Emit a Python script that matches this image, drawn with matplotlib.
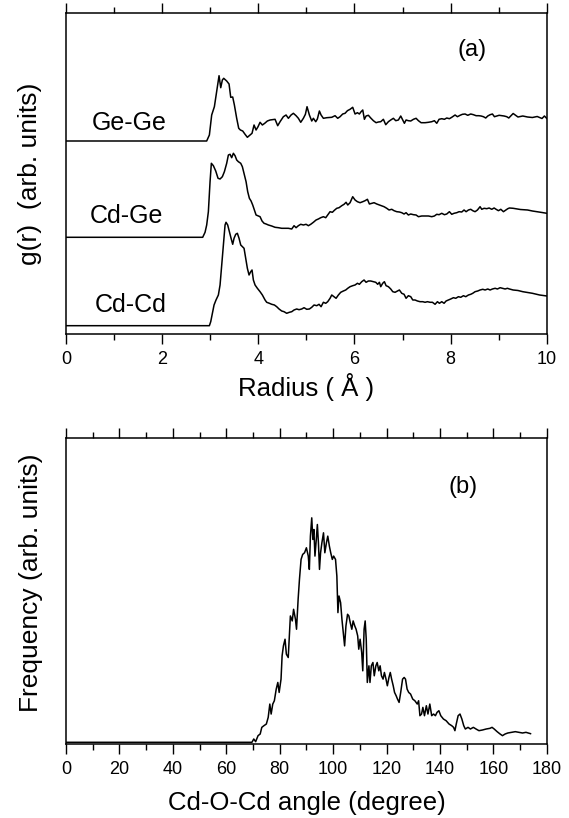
import matplotlib
matplotlib.use("Agg")
import matplotlib.pyplot as plt
from matplotlib.ticker import MultipleLocator

plt.rcParams['font.family'] = ['Liberation Sans', 'DejaVu Sans']

# ---- panel (a): partial g(r), arbitrary offsets already included ----
gege_r = [0.0, 2.926, 2.982, 3.030, 3.086, 3.134, 3.183, 3.218, 3.252, 3.280, 3.342, 3.391, 3.426,
          3.467, 3.502, 3.550, 3.592, 3.627, 3.675, 3.724, 3.772, 3.828, 3.869, 3.911, 3.953,
          3.994, 4.036, 4.084, 4.133, 4.188, 4.244, 4.348, 4.403, 4.452, 4.521, 4.577, 4.625,
          4.681, 4.729, 4.785, 4.833, 4.882, 4.937, 4.979, 5.013, 5.062, 5.111, 5.145, 5.194,
          5.228, 5.270, 5.305, 5.353, 5.423, 5.527, 5.596, 5.651, 5.700, 5.755, 5.804, 5.853,
          5.908, 5.963, 6.012, 6.061, 6.102, 6.137, 6.172, 6.206, 6.241, 6.289, 6.338, 6.393,
          6.449, 6.497, 6.546, 6.601, 6.650, 6.705, 6.754, 6.809, 6.858, 6.913, 6.962, 7.004,
          7.038, 7.073, 7.121, 7.170, 7.226, 7.281, 7.330, 7.385, 7.468, 7.538, 7.607, 7.662,
          7.711, 7.759, 7.815, 7.870, 7.919, 7.974, 8.023, 8.092, 8.141, 8.196, 8.245, 8.300,
          8.356, 8.418, 8.474, 8.529, 8.585, 8.633, 8.682, 8.730, 8.772, 8.821, 8.869, 8.911,
          8.959, 9.008, 9.063, 9.112, 9.167, 9.209, 9.30, 9.40, 9.50, 9.60, 9.70, 9.80, 9.90,
          9.95, 10.0]
gege_g = [193, 193, 199, 219, 227.3, 242.3, 258.3, 246.3, 254, 255.7, 253, 250, 236.7,
          237, 229, 215.7, 205.7, 204, 203, 199.7, 196.7, 199, 200.7, 209, 204,
          207.3, 211.7, 209, 210.7, 213, 214, 214.7, 208.3, 212.3, 217.3, 219, 215.7,
          219, 220.7, 218.3, 215.7, 211.7, 215.7, 219.7, 227.3, 219, 213, 215.7, 212.3,
          215, 223, 219, 215.7, 216.3, 216.7, 218.3, 215.7, 217.3, 220, 220.7, 223.3,
          224.7, 226.7, 220, 221.3, 220, 222.3, 224, 214.7, 218, 218.7, 216, 213.3,
          211.3, 212, 212.3, 214.7, 209.3, 212.3, 214, 215.7, 213.3, 214, 218, 214,
          210.7, 214, 213.3, 213, 214.7, 215.7, 213.3, 211.3, 211.3, 211.7, 212.3, 213.3,
          210.7, 214.7, 215.3, 214.7, 216, 215.3, 216.7, 219, 217.3, 218.7, 219.7, 220,
          218.7, 220, 219.3, 218.3, 218.3, 218, 217.3, 216, 218, 219.3, 220, 217.3,
          218, 218.7, 218.3, 218, 217.3, 216, 220.5, 217, 218, 217, 216.5, 217.5, 215.5,
          218, 215.5]

cdge_r = [0.0, 2.843, 2.892, 2.926, 2.961, 2.996, 3.023, 3.065, 3.114, 3.162, 3.204, 3.252, 3.294,
          3.342, 3.377, 3.412, 3.446, 3.481, 3.516, 3.550, 3.585, 3.634, 3.668, 3.710, 3.745,
          3.779, 3.814, 3.849, 3.883, 3.918, 3.953, 3.987, 4.036, 4.077, 4.119, 4.161, 4.209,
          4.278, 4.348, 4.417, 4.486, 4.556, 4.625, 4.695, 4.743, 4.785, 4.833, 4.882, 4.937,
          4.993, 5.041, 5.090, 5.145, 5.201, 5.249, 5.298, 5.353, 5.402, 5.443, 5.492, 5.540,
          5.582, 5.631, 5.679, 5.735, 5.783, 5.825, 5.860, 5.908, 5.963, 6.012, 6.061, 6.116,
          6.172, 6.220, 6.269, 6.310, 6.359, 6.407, 6.463, 6.518, 6.567, 6.615, 6.671, 6.719,
          6.775, 6.823, 6.879, 6.934, 6.983, 7.031, 7.073, 7.121, 7.170, 7.226, 7.281, 7.330,
          7.399, 7.468, 7.538, 7.607, 7.662, 7.711, 7.759, 7.815, 7.870, 7.919, 7.974, 8.023,
          8.071, 8.127, 8.175, 8.231, 8.279, 8.321, 8.370, 8.418, 8.460, 8.508, 8.557, 8.612,
          8.647, 8.696, 8.751, 8.800, 8.855, 8.904, 8.945, 8.994, 9.043, 9.098, 9.147, 9.188,
          9.223, 9.30, 9.45, 9.60, 9.70, 9.80, 9.90, 10.0]
cdge_g = [96.7, 96.7, 101.7, 109, 122.3, 152.3, 170.7, 168.3, 163, 155.7, 155, 157.3, 162.3,
          170.7, 179, 179.7, 176.3, 180.7, 178.3, 174, 172.3, 170.7, 167.3, 159, 152.3,
          142.3, 135.7, 133, 129, 124, 119, 118.3, 117.3, 113, 110.7, 110, 109,
          108, 106.7, 106.3, 105.7, 105.7, 105.7, 105, 108.3, 106.3, 108.3, 109.7, 109,
          109.7, 108.3, 109.7, 111.7, 114, 115, 116.3, 117.3, 116.3, 119, 122.3, 121.7,
          123.7, 125.7, 126.3, 128.3, 129.7, 131.7, 129, 131.3, 137.3, 134, 132.3, 131.3,
          132.3, 133.3, 134.7, 130, 130.7, 131.3, 130, 129, 128, 127.3, 125.7, 124,
          124.7, 123.3, 122.3, 122, 121.3, 120, 121.3, 119, 120, 119.3, 119, 117.3,
          118, 118, 118, 117.3, 118, 119.7, 119.3, 120.7, 119.3, 120, 122.3, 119.7,
          120.7, 121.3, 122.3, 122, 124, 122.3, 124, 124.7, 123.3, 122.3, 124, 127.3,
          124.7, 125.7, 125.3, 126, 124.7, 126, 124.7, 123.3, 124.7, 122.3, 124, 125.3,
          126, 125.7, 124.5, 124, 123, 122.3, 121.5, 120.7]

cdcd_r = [0.0, 2.982, 3.010, 3.044, 3.079, 3.120, 3.169, 3.204, 3.238, 3.273, 3.308, 3.328, 3.363,
          3.398, 3.433, 3.467, 3.495, 3.530, 3.564, 3.599, 3.634, 3.668, 3.703, 3.738, 3.772,
          3.807, 3.842, 3.869, 3.897, 3.932, 3.980, 4.036, 4.084, 4.140, 4.174, 4.230, 4.278,
          4.334, 4.382, 4.431, 4.486, 4.535, 4.590, 4.646, 4.695, 4.743, 4.798, 4.847, 4.903,
          4.951, 5.007, 5.062, 5.111, 5.159, 5.215, 5.263, 5.305, 5.353, 5.402, 5.443, 5.492,
          5.527, 5.575, 5.617, 5.665, 5.714, 5.769, 5.818, 5.860, 5.908, 5.963, 6.012, 6.061,
          6.102, 6.151, 6.199, 6.241, 6.289, 6.338, 6.393, 6.442, 6.483, 6.518, 6.546, 6.587,
          6.622, 6.657, 6.705, 6.754, 6.796, 6.844, 6.893, 6.934, 6.983, 7.031, 7.073, 7.121,
          7.170, 7.212, 7.260, 7.309, 7.364, 7.420, 7.468, 7.517, 7.572, 7.621, 7.676, 7.725,
          7.766, 7.815, 7.863, 7.905, 7.954, 8.002, 8.058, 8.106, 8.162, 8.210, 8.266, 8.314,
          8.370, 8.418, 8.460, 8.508, 8.564, 8.612, 8.668, 8.716, 8.772, 8.821, 8.869, 8.925,
          8.973, 9.029, 9.077, 9.133, 9.181, 9.223, 9.30, 9.40, 9.50, 9.60, 9.70, 9.85, 10.0]
cdcd_g = [8.3, 8.3, 12.3, 20.7, 29, 34, 39, 49, 69, 89, 109, 111.7, 109,
          102.3, 95.7, 89.7, 95.7, 99.7, 100.7, 95.7, 89, 87.3, 85.7, 75.7, 65.7,
          59, 62.3, 64, 54, 49, 45.7, 42.3, 39, 34, 31.7, 30.7, 29.7,
          29, 27.3, 25, 23, 22.3, 20.7, 21.7, 22.3, 24, 25, 24.3, 25,
          26.3, 24.7, 25, 26.7, 29, 28.3, 29.7, 27.3, 31.7, 30.7, 32.3, 35.7,
          39, 37.3, 35.7, 39, 41.7, 43, 44, 45.7, 47.3, 48.3, 49, 50.7,
          49.7, 52.3, 54, 51.7, 53, 53, 52.3, 51.7, 49.7, 51.7, 47.3, 50.7,
          52.3, 48.3, 47.3, 45, 42.3, 41.7, 43, 44, 40.7, 39.7, 35.7, 38.3,
          37.3, 34, 34, 33, 32.3, 32.3, 31.7, 32.3, 31.7, 31.7, 29.7, 32.3,
          30.7, 32.3, 30.7, 33, 34, 35, 36.3, 35.7, 37.3, 36.7, 38.3, 37.3,
          39, 39.7, 40.7, 42.3, 43, 44, 44.7, 44, 45, 44, 45, 45.7,
          45, 46.3, 45.7, 45, 45.7, 45, 44, 43.5, 42.3, 41.5, 40.7, 39, 38]

# ---- panel (b): Cd-O-Cd bond angle distribution ----
angle = [0.0, 69.6, 70.3, 71.0, 71.9, 72.7, 73.3, 74.1, 75.0, 75.7, 76.3, 76.8, 77.4, 78.0, 78.7,
         79.3, 79.8, 80.5, 80.9, 81.4, 82.0, 82.5, 83.2, 83.6, 84.0, 84.7, 85.2, 85.9, 86.3,
         86.9, 87.4, 88.0, 88.6, 89.3, 90.0, 90.7, 91.1, 91.5, 92.0, 92.4, 92.8, 93.2, 93.7,
         94.1, 94.5, 94.9, 95.3, 95.8, 96.4, 96.9, 97.5, 98.0, 98.6, 99.1, 99.7, 100.2, 100.9,
         101.4, 101.8, 102.2, 102.8, 103.3, 103.8, 104.3, 104.8, 105.4, 105.9, 106.4, 107.0,
         107.5, 108.1, 108.6, 109.2, 109.6, 110.1, 110.7, 111.1, 111.6, 112.0, 112.4, 112.8,
         113.4, 113.8, 114.3, 114.9, 115.4, 116.0, 116.5, 117.1, 117.6, 118.1, 118.7, 119.2,
         119.8, 120.3, 120.9, 121.4, 121.9, 122.5, 123.0, 123.6, 124.1, 124.7, 125.3, 126.0,
         126.6, 127.1, 127.7, 128.3, 129.0, 129.8, 130.6, 131.5, 132.0, 132.5, 133.1, 133.6,
         134.2, 134.9, 135.5, 136.2, 136.9, 137.6, 138.3, 138.9, 139.6, 140.3, 141.3, 142.3,
         143.4, 144.4, 145.1, 145.6, 146.1, 146.8, 147.5, 148.2, 148.9, 149.5, 150.5, 151.4,
         152.5, 153.5, 154.6, 155.9, 157.3, 158.7, 159.5, 160.3, 161.4, 162.5, 163.4, 164.4,
         165.4, 166.8, 168.2, 169.5, 170.9, 172.2, 173.9]
freq = [0.5, 0.5, 1.5, 0.7, 2.5, 3, 5, 5.5, 6, 8, 12, 9, 12, 13, 16.5,
        18.5, 15.5, 19.5, 26.5, 29.5, 31.5, 27, 26, 32.5, 38.5, 37, 40.5, 37.5, 34.5,
        43.5, 49.5, 55.5, 57, 57.5, 59, 56.5, 52.5, 62.5, 68, 61.5, 64.5, 56.5, 61.5,
        66, 60.5, 52.5, 57.5, 60.5, 63.5, 57.5, 60.5, 62.5, 59.5, 57.5, 55.5, 56.5, 55.5,
        50.5, 39.5, 44.5, 42.5, 37.5, 33.5, 29.5, 35.5, 39, 38.5, 36.5, 34.5,
        37, 35.5, 34.5, 32.5, 28.5, 31.5, 27.5, 22, 34.5, 37, 31.5, 18.5,
        23.5, 18.5, 23.5, 24.5, 20.5, 23.5, 24.5, 22, 23.5, 20.5, 19.5, 21.5,
        19.5, 17.5, 20, 21.5, 19.5, 17.5, 15.5, 14.5, 13.5, 12.5, 15.5, 19.5,
        20, 19.5, 16.5, 15.5, 15, 13.5, 13, 12, 13, 8.5, 9, 11,
        8.5, 11.5, 9, 12, 8.5, 9, 8.5, 9.5, 10, 8.5, 7.5, 7,
        6, 5.5, 5, 4, 6, 8.5, 9, 7.5, 5.5, 4.5, 5, 4.5,
        5, 4.5, 4, 4.2, 4.5, 4.7, 5, 4.5, 3.7, 3, 2.5, 3,
        3.3, 3.5, 3.7, 3.5, 3.3, 3.5, 3.1]

pair_labels = ['Ge-Ge', 'Cd-Ge', 'Cd-Cd']
label_pos = [(0.53, 211.3), (0.50, 118), (0.59, 28.7)]

fig = plt.figure(figsize=(5.69, 8.18), dpi=100)
ax1 = fig.add_axes([0.116, 0.5917, 0.845, 0.3924])
ax2 = fig.add_axes([0.116, 0.0905, 0.845, 0.374])

lw = 1.1
ax1.plot(gege_r, gege_g, color='black', lw=lw)
ax1.plot(cdge_r, cdge_g, color='black', lw=lw)
ax1.plot(cdcd_r, cdcd_g, color='black', lw=lw)
for lab, (x, y) in zip(pair_labels, label_pos):
    ax1.text(x, y, lab, fontsize=18, va='center', ha='left')
ax1.text(8.45, 284, '(a)', fontsize=17, ha='center', va='center')

ax1.set_xlim(0, 10)
ax1.set_ylim(0, 321)
ax1.xaxis.set_major_locator(MultipleLocator(2))
ax1.xaxis.set_minor_locator(MultipleLocator(1))
ax1.set_xlabel('Radius ( Å )', fontsize=18.5)
ax1.set_ylabel('g(r)  (arb. units)', fontsize=19)
ax1.xaxis.set_label_coords(0.5, -0.165)
ax1.yaxis.set_label_coords(-0.075, 0.5)

ax2.plot(angle, freq, color='black', lw=lw)
ax2.text(148.7, 77.3, '(b)', fontsize=17, ha='center', va='center')
ax2.set_xlim(0, 180)
ax2.set_ylim(0, 92)
ax2.xaxis.set_major_locator(MultipleLocator(20))
ax2.xaxis.set_minor_locator(MultipleLocator(10))
ax2.set_xlabel('Cd-O-Cd angle (degree)', fontsize=18.5)
ax2.set_ylabel('Frequency (arb. units)', fontsize=19)
ax2.xaxis.set_label_coords(0.5, -0.193)
ax2.yaxis.set_label_coords(-0.072, 0.526)

for ax in (ax1, ax2):
    ax.xaxis.label.set_va('center')
    ax.yaxis.label.set_va('center')
    for sp in ax.spines.values():
        sp.set_linewidth(1.1)
    ax.set_yticks([])
    ax.tick_params(axis='x', which='both', direction='out', top=True, bottom=True,
                   labeltop=False, labelsize=13, width=1.0)
    ax.tick_params(axis='x', which='major', length=7, pad=5)
    ax.tick_params(axis='x', which='minor', length=4)

fig.savefig('out.png', dpi=100)
